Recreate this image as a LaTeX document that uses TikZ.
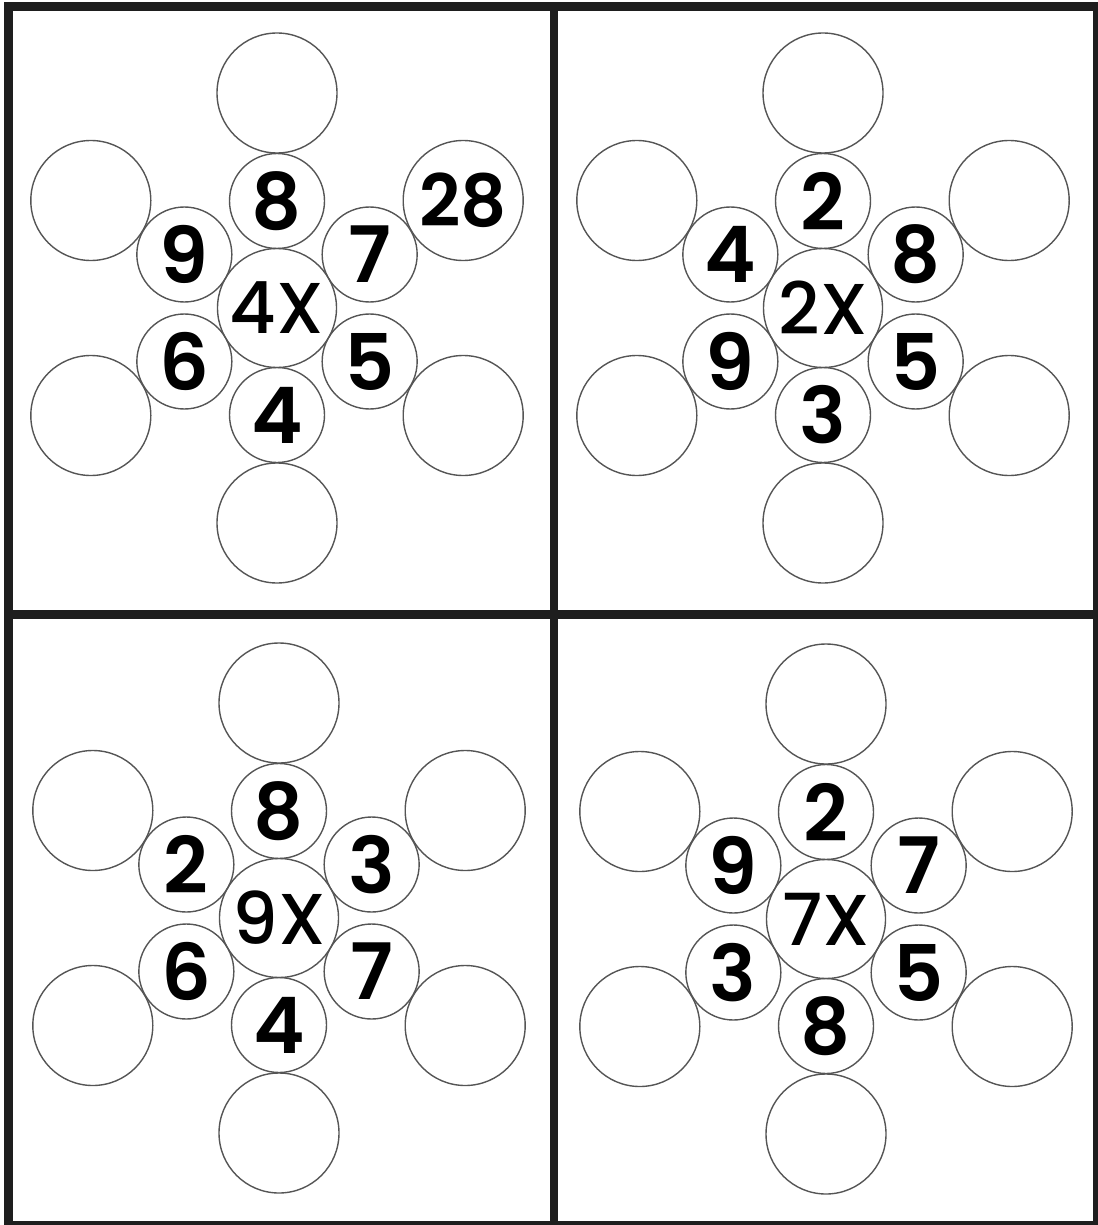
\documentclass[tikz,border=0pt]{standalone}
\usepackage{fontspec}
\usepackage{tikz}
\usetikzlibrary{calc}
\newfontfamily\numfont{Poppins SemiBold}
\newfontfamily\hubfont{Poppins Medium}
\definecolor{ringGray}{RGB}{85,85,85}
\definecolor{frameBlack}{RGB}{30,30,30}

\begin{document}
\begin{tikzpicture}[
  x=1pt, y=-1pt,
  hub/.style={circle, draw=ringGray, line width=1.4pt, minimum size=119pt, inner sep=0pt, font=\hubfont\fontsize{72}{72}\selectfont},
  petal/.style={circle, draw=ringGray, line width=1.4pt, minimum size=95pt, inner sep=0pt, font=\numfont\fontsize{78}{78}\selectfont},
  leaf/.style={circle, draw=ringGray, line width=1.4pt, minimum size=120pt, inner sep=0pt, font=\numfont\fontsize{72}{72}\selectfont},
]
\useasboundingbox (0,0) rectangle (1097,1225);
% top-left panel
\node[hub] (a-hub) at (277,308) {4X};
\foreach \ang/\num [count=\i] in {90/8, 30/7, -30/5, -90/4, -150/6, 150/9}
  \node[petal] (a-p\i) at ($(a-hub)+(\ang:107pt)$) {\num};
\foreach \ang/\txt [count=\i] in {90/{}, 30/28, -30/{}, -90/{}, -150/{}, 150/{}}
  \node[leaf] (a-o\i) at ($(a-hub)+(\ang:215pt)$) {\txt};
% top-right panel
\node[hub] (b-hub) at (823,308) {2X};
\foreach \ang/\num [count=\i] in {90/2, 30/8, -30/5, -90/3, -150/9, 150/4}
  \node[petal] (b-p\i) at ($(b-hub)+(\ang:107pt)$) {\num};
\foreach \ang [count=\i] in {90, 30, -30, -90, -150, 150}
  \node[leaf] (b-o\i) at ($(b-hub)+(\ang:215pt)$) {};
% bottom-left panel
\node[hub] (c-hub) at (279,918) {9X};
\foreach \ang/\num [count=\i] in {90/8, 30/3, -30/7, -90/4, -150/6, 150/2}
  \node[petal] (c-p\i) at ($(c-hub)+(\ang:107pt)$) {\num};
\foreach \ang [count=\i] in {90, 30, -30, -90, -150, 150}
  \node[leaf] (c-o\i) at ($(c-hub)+(\ang:215pt)$) {};
% bottom-right panel
\node[hub] (d-hub) at (826,919) {7X};
\foreach \ang/\num [count=\i] in {90/2, 30/7, -30/5, -90/8, -150/3, 150/9}
  \node[petal] (d-p\i) at ($(d-hub)+(\ang:107pt)$) {\num};
\foreach \ang [count=\i] in {90, 30, -30, -90, -150, 150}
  \node[leaf] (d-o\i) at ($(d-hub)+(\ang:215pt)$) {};
% frame
\draw[frameBlack, line width=9pt] (8.5,7) rectangle (1097,1225);
\draw[frameBlack, line width=8pt] (554,7) -- (554,1225);
\draw[frameBlack, line width=9pt] (8.5,614.5) -- (1097,614.5);
\end{tikzpicture}
\end{document}
